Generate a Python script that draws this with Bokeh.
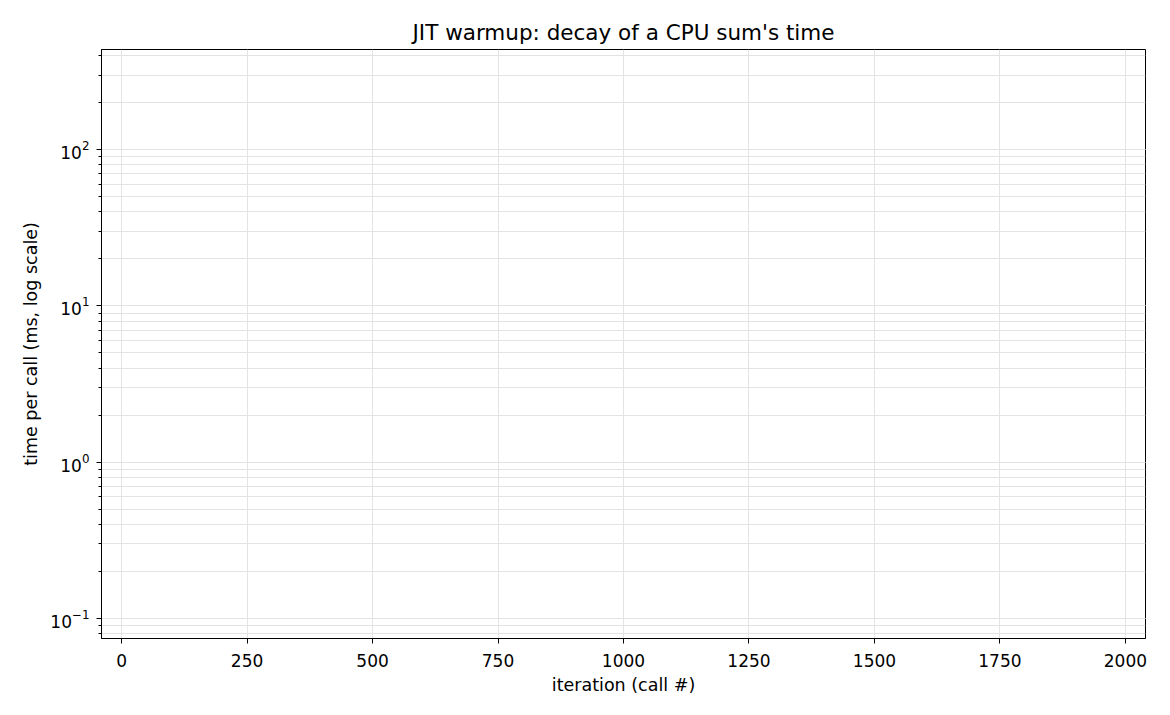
from bokeh.plotting import figure
from bokeh.models import Range1d, FixedTicker
from bokeh.embed import file_html
from bokeh.resources import INLINE

# no timings made it into the chart: the series is empty
iterations = []
time_ms = []

x_ticks = [0, 250, 500, 750, 1000, 1250, 1500, 1750, 2000]

FONT = "DejaVu Sans"
GRID = "#e3e3e3"

p = figure(width=1162, height=707, y_axis_type="log",
           x_range=Range1d(-40, 2040), y_range=Range1d(0.0745, 437),
           title="JIT warmup: decay of a CPU sum's time",
           x_axis_label="iteration (call #)",
           y_axis_label="time per call (ms, log scale)",
           output_backend="svg", toolbar_location=None,
           min_border_left=101, min_border_right=17,
           min_border_top=49, min_border_bottom=69)

p.line(iterations, time_ms, line_color="#1f77b4", line_width=1.5)

# title
p.title.align = "center"
p.title.text_font = FONT
p.title.text_font_size = "21.5px"
p.title.text_font_style = "normal"
p.title.text_color = "black"
p.title.offset = 1

# frame
p.outline_line_color = "black"
p.outline_line_width = 1
p.outline_line_alpha = 1

# axes
p.xaxis.ticker = FixedTicker(ticks=x_ticks)
p.yaxis.ticker.num_minor_ticks = 10
for ax in (p.xaxis, p.yaxis):
    ax.axis_line_color = "black"
    ax.major_tick_line_color = "black"
    ax.major_tick_in = 0
    ax.major_tick_out = 5
    ax.minor_tick_in = 0
    ax.minor_tick_out = 3
    ax.major_label_text_font = FONT
    ax.major_label_text_font_size = "17px"
    ax.major_label_text_color = "black"
    ax.axis_label_text_font = FONT
    ax.axis_label_text_font_size = "17.5px"
    ax.axis_label_text_font_style = "normal"
    ax.axis_label_text_color = "black"
p.xaxis.minor_tick_line_color = None
p.yaxis.minor_tick_line_color = "black"
p.xaxis.major_label_standoff = 10
p.yaxis.major_label_standoff = 7
p.yaxis.axis_label_standoff = 6

# grid
p.xgrid.grid_line_color = GRID
p.ygrid.grid_line_color = GRID
p.ygrid.minor_grid_line_color = GRID

open("out.html", "w").write(file_html(p, INLINE))
